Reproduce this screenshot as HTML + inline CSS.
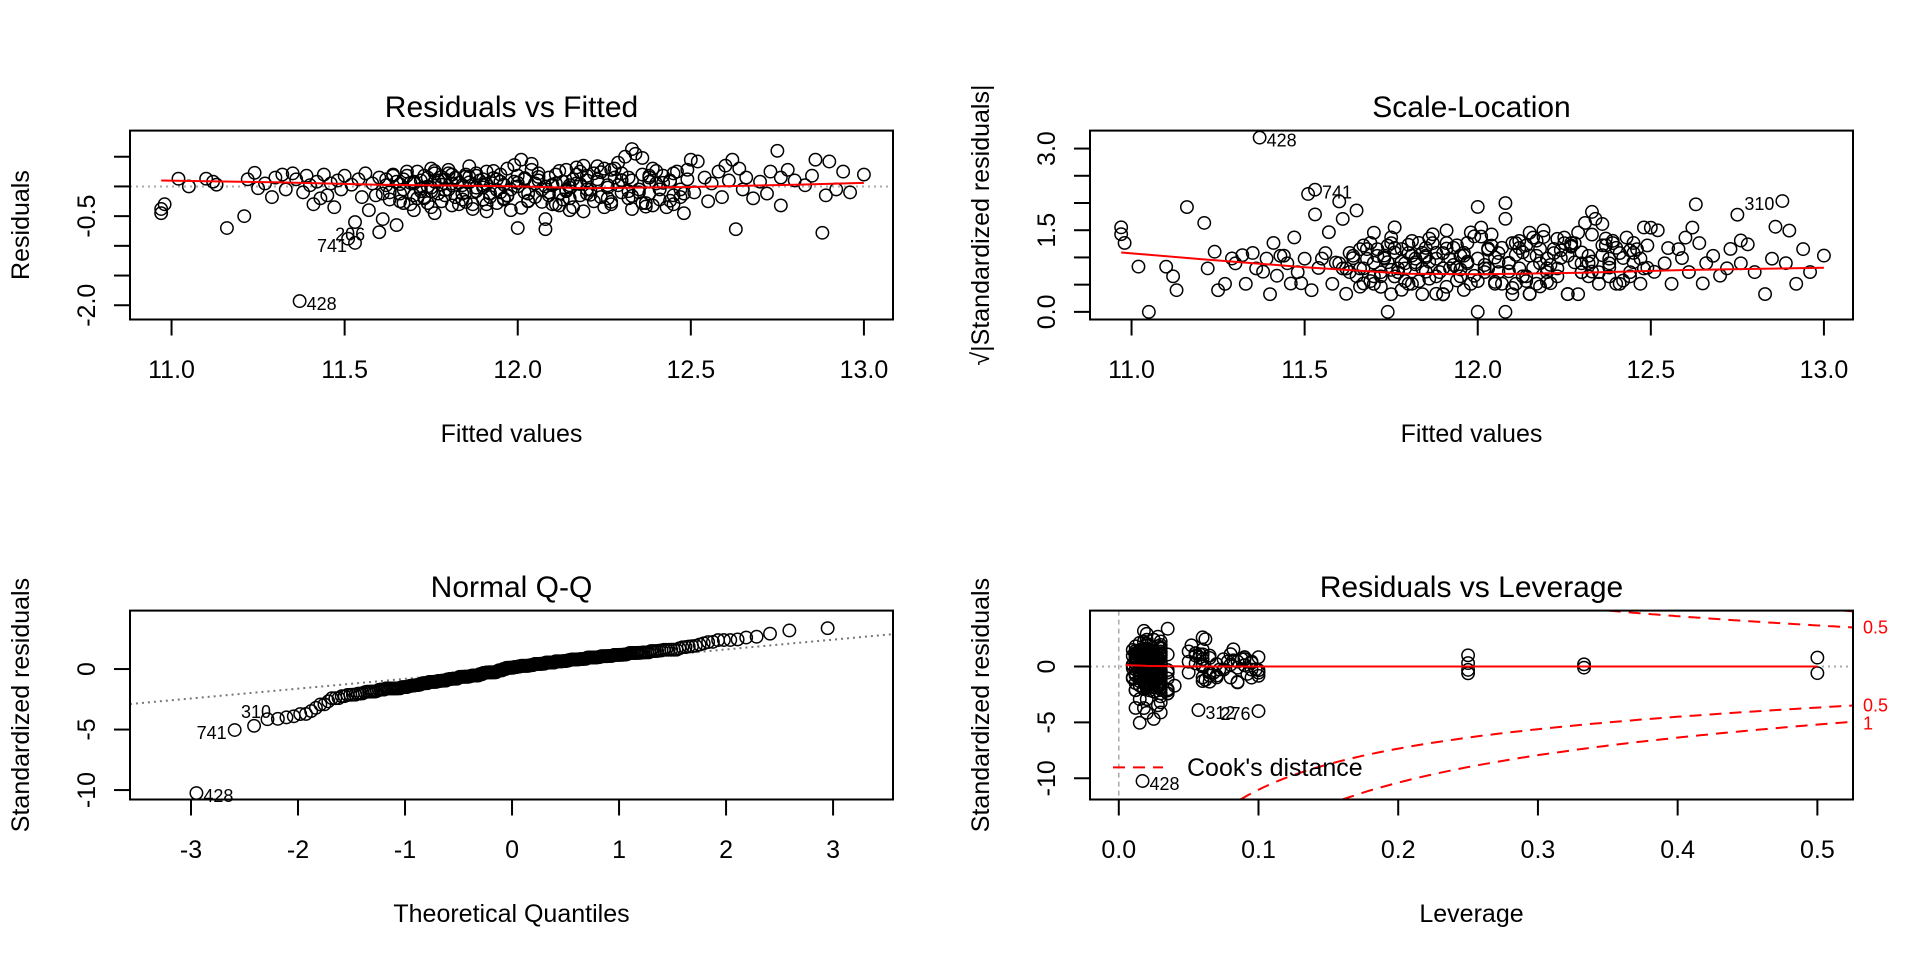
<!DOCTYPE html>
<html>
<head>
<meta charset="utf-8">
<style>
html,body{margin:0;padding:0;background:#fff;overflow:hidden;width:1920px;height:960px;}
svg{display:block;font-family:"Liberation Sans",sans-serif;}
</style>
</head>
<body>
<svg id="chart" width="1920" height="960" viewBox="0 0 1920 960" xmlns="http://www.w3.org/2000/svg"></svg>
<script>
// ---- data ----
const fitted = [
10.97,10.97,10.98,11.02,11.05,11.10,11.12,11.13,11.16,11.21,
11.22,11.24,11.25,11.27,11.29,11.30,11.32,11.33,11.35,11.36,
11.37,11.38,11.39,11.40,11.41,11.42,11.43,11.44,11.45,11.46,
11.47,11.48,11.49,11.50,11.51,11.52,11.53,11.53,11.54,11.55,
11.56,11.57,11.58,11.59,11.60,11.60,11.61,11.62,11.63,11.64,
11.65,11.65,11.66,11.67,11.67,11.68,11.69,11.70,11.70,11.71,
11.72,11.72,11.73,11.74,11.74,11.75,11.76,11.76,11.77,11.78,
11.78,11.79,11.80,11.80,11.81,11.82,11.82,11.83,11.84,11.85,
11.85,11.86,11.87,11.88,11.88,11.89,11.90,11.91,11.91,11.92,
11.93,11.94,11.94,11.95,11.96,11.97,11.97,11.98,11.99,12.00,
12.01,12.02,12.02,12.03,12.04,12.05,12.05,12.06,12.07,12.08,
12.08,12.09,12.10,12.10,12.11,12.12,12.13,12.13,12.14,12.15,
12.16,12.16,12.17,12.18,12.19,12.19,12.20,12.21,12.22,12.22,
12.23,12.24,12.25,12.26,12.27,12.28,12.29,12.30,12.30,12.31,
12.32,12.33,12.33,12.34,12.35,12.36,12.37,12.38,12.38,12.39,
12.40,12.41,12.42,12.43,12.44,12.45,12.46,12.47,12.48,12.49,
12.50,12.51,12.52,12.54,12.55,12.56,12.58,12.59,12.60,12.61,
12.62,12.63,12.64,12.65,12.66,12.68,12.70,12.72,12.73,12.75,
12.76,12.76,12.78,12.80,12.83,12.85,12.86,12.88,12.89,12.90,
12.92,12.94,12.96,13.00,
11.62,11.66,11.69,11.71,11.73,11.75,11.77,11.79,11.81,11.83,
11.84,11.86,11.88,11.90,11.92,11.95,11.98,12.00,12.03,12.06,
12.09,12.11,12.14,12.17,12.20,12.23,12.26,12.29,12.32,12.35,
12.38,12.41,12.44,12.47,11.74,11.87,11.96,12.12,12.25,12.36,
11.68,11.80,11.93,12.04,12.18,12.28,12.40,11.76,12.15,12.45,
11.85,12.05,12.20,11.95,12.10,11.90,12.30,11.75,12.00,12.15,
11.61,11.64,11.67,11.70,11.73,11.76,11.79,11.82,11.85,11.88,
11.91,11.94,11.97,12.00,12.03,12.06,12.09,12.12,12.15,12.18,
12.21,12.24,12.27,12.30,12.33,12.36,12.39,12.42,12.45,12.48,
11.66,11.72,11.78,11.84,11.90,11.96,12.02,12.08,12.14,12.20,
12.26,12.32,12.38,12.44,11.70,11.86,12.01,12.17,12.33,12.49,
11.63,11.81,11.99,12.11,12.23,12.37,11.75,11.91,12.07,12.27
];
const resid = [
-0.45,-0.38,-0.30,0.13,0.00,0.13,0.08,0.03,-0.70,-0.50,
0.12,0.23,-0.03,0.05,-0.18,0.15,0.20,-0.05,0.22,0.12,
-1.93,-0.10,0.18,0.02,-0.30,0.08,-0.20,0.20,-0.15,0.05,
-0.35,0.10,-0.05,0.18,-0.88,0.03,-0.95,-0.60,0.12,-0.18,
0.22,-0.40,0.05,-0.15,-0.77,0.15,-0.55,0.02,-0.10,0.20,
-0.65,0.08,-0.25,0.12,-0.05,0.18,-0.30,0.05,-0.15,0.25,
0.10,-0.08,-0.20,0.15,0.00,-0.35,0.08,0.22,-0.12,0.03,
-0.25,0.12,0.28,-0.05,0.05,-0.18,0.15,-0.30,0.02,0.20,
-0.10,0.07,-0.38,0.18,-0.02,0.10,-0.22,0.25,0.04,-0.12,
0.14,-0.06,-0.28,0.20,0.03,-0.15,0.30,-0.40,0.08,-0.70,
0.45,-0.10,0.12,-0.25,0.38,0.05,-0.18,0.22,-0.05,-0.72,
-0.55,0.15,-0.30,0.02,0.20,-0.12,0.08,-0.22,0.28,-0.02,
0.12,-0.35,0.05,-0.15,0.35,-0.42,0.18,-0.05,0.22,-0.25,
0.08,-0.18,0.30,0.02,-0.30,0.15,0.40,-0.10,0.22,0.50,
-0.20,0.63,0.10,0.55,-0.05,0.48,-0.28,0.15,-0.12,0.30,
0.05,-0.22,0.18,-0.35,0.08,-0.15,0.25,-0.05,-0.45,0.12,
0.45,-0.10,0.42,0.15,-0.25,0.05,0.25,-0.18,0.35,0.10,
0.45,-0.72,0.30,-0.05,0.15,-0.20,0.08,-0.12,0.25,0.60,
-0.32,0.15,0.28,0.10,0.02,0.18,0.45,-0.78,-0.15,0.42,
-0.05,0.25,-0.10,0.20,
0.12,-0.12,0.06,-0.20,0.18,-0.02,0.10,-0.15,0.20,0.06,
-0.22,0.16,-0.08,0.12,-0.18,0.08,-0.05,0.18,-0.12,0.10,
-0.15,0.05,-0.08,0.20,-0.12,0.12,-0.20,0.02,0.15,-0.10,
0.18,-0.05,0.10,-0.18,-0.28,-0.30,-0.22,-0.32,-0.35,-0.28,
0.25,0.22,0.26,0.28,0.25,0.30,0.26,-0.45,-0.40,-0.30,
0.165,0.05,-0.05,-0.10,0.03,-0.016,0.107,-0.08,0.00,0.02,
-0.12,0.18,-0.28,0.08,-0.18,0.26,-0.06,0.14,-0.26,0.22,
-0.30,0.12,-0.16,0.06,-0.24,0.16,-0.10,0.26,-0.20,0.04,
-0.14,0.24,-0.26,0.10,-0.16,0.20,-0.32,0.06,0.22,-0.12,
0.04,-0.04,0.16,-0.12,0.02,-0.20,0.14,0.00,-0.06,0.10,
-0.02,-0.08,0.08,-0.24,-0.40,0.34,-0.36,0.32,-0.38,0.28,
-0.22,-0.32,0.36,-0.30,0.34,-0.34,0.30,-0.42,-0.26,0.28
];
const leverage = [
.035,.035,.03,.02,.018,.015,.025,.02,.012,.03,
.02,.015,.01,.025,.03,.012,.06,.018,.022,.015,
.017,.065,.02,.01,.03,.085,.015,.025,.02,.055,
.03,.02,.095,.015,.025,.01,.015,.03,.06,.02,
.012,.035,.022,.07,.03,.02,.015,.09,.025,.018,
.028,.05,.015,.02,.075,.01,.03,.022,.065,.018,
.012,.025,.035,.1,.02,.03,.015,.055,.02,.08,
.025,.018,.06,.012,.03,.02,.09,.028,.015,.022,
.068,.02,.03,.012,.085,.025,.018,.05,.02,.03,
.015,.1,.025,.02,.06,.012,.03,.022,.078,.018,
.025,.035,.015,.065,.02,.03,.095,.012,.028,.1,
.02,.058,.025,.015,.08,.03,.02,.062,.018,.025,
.088,.02,.03,.015,.052,.025,.02,.098,.012,.03,
.022,.07,.018,.03,.025,.09,.015,.02,.055,.028,
.015,.035,.082,.02,.03,.06,.025,.012,.092,.02,
.03,.018,.065,.025,.02,.1,.015,.028,.03,.075,
.02,.05,.03,.015,.085,.025,.018,.06,.02,.03,
.025,.057,.02,.072,.03,.015,.095,.022,.03,.018,
.04,.02,.082,.025,.03,.015,.062,.02,.03,.018,
.025,.02,.035,.03,
.012,.018,.025,.01,.03,.015,.022,.02,.035,.012,
.028,.015,.02,.025,.01,.03,.018,.022,.015,.028,
.02,.012,.03,.018,.025,.015,.022,.01,.028,.02,
.015,.025,.018,.03,.012,.02,.028,.015,.022,.03,
.02,.015,.025,.01,.03,.018,.022,.035,.012,.028,
.25,.25,.25,.25,.333,.333,.5,.5,.06,.09,
.015,.055,.02,.03,.08,.012,.025,.065,.018,.03,
.022,.09,.015,.028,.06,.02,.1,.012,.03,.07,
.018,.025,.085,.015,.03,.058,.02,.095,.025,.012,
.03,.018,.022,.015,.028,.02,.012,.025,.035,.018,
.02,.03,.015,.025,.012,.028,.02,.03,.018,.022,
.025,.015,.03,.02,.012,.028,.018,.025,.02,.015
];
const sigma = 0.19;
const nParams = 27;
// smoother lines
const rvfSmoothX = [10.97,11.3,11.6,12.0,12.2,12.5,12.8,13.0];
const rvfSmoothY = [0.10,0.07,0.03,0.0,-0.03,-0.01,0.03,0.06];
const slSmoothX = [10.97,11.2,11.5,11.8,12.0,12.3,12.6,13.0];
const slSmoothY = [1.09,0.97,0.82,0.70,0.69,0.72,0.77,0.81];
const lvSmoothX = [0.005,0.02,0.05,0.1,0.25,0.333,0.5];
const lvSmoothY = [0.12,0.05,0.0,0.0,0.0,0.0,0.0];
// tick labels
const fitTicks = [11.0,11.5,12.0,12.5,13.0];
const fitTickLabels = ["11.0","11.5","12.0","12.5","13.0"];
const rvfYTicks = [0.5,0,-0.5,-1.0,-1.5,-2.0];
const rvfYLabels = ["","","-0.5","","","-2.0"];
const slYTicks = [0,0.5,1.0,1.5,2.0,2.5,3.0];
const slYLabels = ["0.0","","","1.5","","","3.0"];
const qqXTicks = [-3,-2,-1,0,1,2,3];
const qqYTicks = [0,-5,-10];
const lvXTicks = [0,0.1,0.2,0.3,0.4,0.5];
const lvXLabels = ["0.0","0.1","0.2","0.3","0.4","0.5"];
const lvYTicks = [0,-5,-10];
const cookLevels = [0.5,1];

// ---- helpers ----
const svg = document.getElementById('chart');
const NS = 'http://www.w3.org/2000/svg';
function mk(tag, attrs, name, parent){
  const el = document.createElementNS(NS, tag);
  for (const k in attrs) el.setAttribute(k, attrs[k]);
  
  
  (parent||svg).appendChild(el);
  return el;
}
function txt(s, attrs, name, parent){ const t = mk('text', attrs, name, parent); t.textContent = s; return t; }
function lin(d0,d1,r0,r1){ return v => r0 + (v-d0)/(d1-d0)*(r1-r0); }
const BL=130, BR=893, BT=130.6, BB=319.5;

function panel(ox, oy, xlim, ylim, key){
  const g = mk('g', {transform:`translate(${ox},${oy})`}, key+'-panel');
  const sx = lin(xlim[0], xlim[1], BL, BR);
  const sy = lin(ylim[0], ylim[1], BB, BT);
  const clip = mk('clipPath', {id:'clip-'+key}, key+'-clip', g);
  mk('rect', {x:BL, y:BT, width:BR-BL, height:BB-BT}, key+'-clip-rect', clip);
  const plot = mk('g', {'clip-path':`url(#clip-${key})`}, key+'-plot-area', g);
  return {g, sx, sy, plot};
}
function frame(p, key, title, xlab, ylab){
  mk('rect', {x:BL, y:BT, width:BR-BL, height:BB-BT, fill:'none', stroke:'#000', 'stroke-width':2}, key+'-frame', p.g);
  txt(title, {x:(BL+BR)/2, y:117, 'text-anchor':'middle', 'font-size':30}, key+'-title', p.g);
  txt(xlab, {x:(BL+BR)/2, y:442, 'text-anchor':'middle', 'font-size':25}, key+'-x-axis-title', p.g);
  txt(ylab, {x:0, y:0, transform:`translate(29,${(BT+BB)/2}) rotate(-90)`, 'text-anchor':'middle', 'font-size':25}, key+'-y-axis-title', p.g);
}
function xAxis(p, key, ticks, labels){
  ticks.forEach((t,i)=>{
    const x = p.sx(t);
    mk('line', {x1:x, x2:x, y1:BB, y2:BB+16, stroke:'#000', 'stroke-width':2}, key+'-x-tick', p.g);
    txt(labels[i], {x:x, y:378, 'text-anchor':'middle', 'font-size':25}, key+'-x-tick-label', p.g);
  });
}
function yAxis(p, key, ticks, labels){
  ticks.forEach((t,i)=>{
    const y = p.sy(t);
    mk('line', {x1:BL-16, x2:BL, y1:y, y2:y, stroke:'#000', 'stroke-width':2}, key+'-y-tick', p.g);
    if (labels[i]) txt(labels[i], {x:0, y:0, transform:`translate(95,${y}) rotate(-90)`, 'text-anchor':'middle', 'font-size':25}, key+'-y-tick-label', p.g);
  });
}
function pts(p, key, xs, ys){
  xs.forEach((v,i)=>{
    mk('circle', {cx:p.sx(v), cy:p.sy(ys[i]), r:6.2, fill:'none', stroke:'#000', 'stroke-width':1.5}, key+'-point', p.plot);
  });
}
function polyl(p, key, xs, ys, attrs){
  const d = xs.map((v,i)=>`${p.sx(v).toFixed(1)},${p.sy(ys[i]).toFixed(1)}`).join(' ');
  return mk('polyline', Object.assign({points:d, fill:'none'}, attrs), key, p.plot);
}
function ptLabel(p, key, s, xv, yv, side){
  const x = p.sx(xv), y = p.sy(yv);
  const a = side==='right' ? {x:x+7, y:y+9, 'text-anchor':'start'}
          : side==='left' ? {x:x-8, y:y+9, 'text-anchor':'end'}
          : {x:x+2, y:y+2, 'text-anchor':'middle'};
  a['font-size'] = 18;
  txt(s, a, key, p.g);
}

const stdRes = resid.map((r,i)=> r/(sigma*Math.sqrt(1-leverage[i])));
const sqrtAbs = stdRes.map(v=>Math.sqrt(Math.abs(v)));

// ---- Residuals vs Fitted ----
{
  const p = panel(0, 0, [10.88,13.084], [-2.24,0.94], 'rvf');
  mk('line', {x1:BL, x2:BR, y1:p.sy(0), y2:p.sy(0), stroke:'#aaa', 'stroke-width':2, 'stroke-dasharray':'2,4'}, 'rvf-zero-line', p.plot);
  pts(p, 'rvf', fitted, resid);
  polyl(p, 'rvf-smoother-line', rvfSmoothX, rvfSmoothY, {stroke:'#f00', 'stroke-width':2});
  frame(p, 'rvf', 'Residuals vs Fitted', 'Fitted values', 'Residuals');
  xAxis(p, 'rvf', fitTicks, fitTickLabels);
  yAxis(p, 'rvf', rvfYTicks, rvfYLabels);
  ptLabel(p, 'rvf-label-428', '428', fitted[20], resid[20], 'right');
  ptLabel(p, 'rvf-label-741', '741', fitted[36], resid[36], 'left');
  ptLabel(p, 'rvf-label-206', '206', fitted[34], resid[34], 'mid');
}
// ---- Scale-Location ----
{
  const p = panel(960, 0, [10.88,13.084], [-0.14,3.33], 'sl');
  pts(p, 'sl', fitted, sqrtAbs);
  polyl(p, 'sl-smoother-line', slSmoothX, slSmoothY, {stroke:'#f00', 'stroke-width':2});
  frame(p, 'sl', 'Scale-Location', 'Fitted values', '\u221A|Standardized residuals|');
  xAxis(p, 'sl', fitTicks, fitTickLabels);
  yAxis(p, 'sl', slYTicks, slYLabels);
  ptLabel(p, 'sl-label-428', '428', fitted[20], sqrtAbs[20], 'right');
  ptLabel(p, 'sl-label-741', '741', fitted[36], sqrtAbs[36], 'right');
  ptLabel(p, 'sl-label-310', '310', fitted[187], sqrtAbs[187], 'left');
}
// ---- Normal Q-Q ----
function qnorm(pp){
  const a=[-39.69683028665376,220.9460984245205,-275.9285104469687,138.3577518672690,-30.66479806614716,2.506628277459239];
  const b=[-54.47609879822406,161.5858368580409,-155.6989798598866,66.80131188771972,-13.28068155288572];
  const c=[-7.784894002430293e-03,-0.3223964580411365,-2.400758277161838,-2.549732539343734,4.374664141464968,2.938163982698783];
  const d=[7.784695709041462e-03,0.3224671290700398,2.445134137142996,3.754408661907416];
  const pl=0.02425;
  if (pp<pl){const q=Math.sqrt(-2*Math.log(pp));return (((((c[0]*q+c[1])*q+c[2])*q+c[3])*q+c[4])*q+c[5])/((((d[0]*q+d[1])*q+d[2])*q+d[3])*q+1);}
  if (pp>1-pl){const q=Math.sqrt(-2*Math.log(1-pp));return -(((((c[0]*q+c[1])*q+c[2])*q+c[3])*q+c[4])*q+c[5])/((((d[0]*q+d[1])*q+d[2])*q+d[3])*q+1);}
  const q=pp-0.5, r=q*q;
  return (((((a[0]*r+a[1])*r+a[2])*r+a[3])*r+a[4])*r+a[5])*q/(((((b[0]*r+b[1])*r+b[2])*r+b[3])*r+b[4])*r+1);
}
{
  const p = panel(0, 480, [-3.57,3.56], [-10.78,4.83], 'qq');
  const sorted = stdRes.slice().sort((a,b)=>a-b);
  const n = sorted.length;
  const theo = sorted.map((v,i)=> qnorm((i+0.5)/n));
  mk('line', {x1:p.sx(-3.57), x2:p.sx(3.56), y1:p.sy(-3.57*0.81), y2:p.sy(3.56*0.81), stroke:'#777', 'stroke-width':2, 'stroke-dasharray':'2,4'}, 'qq-reference-line', p.plot);
  pts(p, 'qq', theo, sorted);
  frame(p, 'qq', 'Normal Q-Q', 'Theoretical Quantiles', 'Standardized residuals');
  xAxis(p, 'qq', qqXTicks, qqXTicks.map(String));
  yAxis(p, 'qq', qqYTicks, qqYTicks.map(String));
  ptLabel(p, 'qq-label-428', '428', theo[0], sorted[0], 'right');
  ptLabel(p, 'qq-label-741', '741', theo[1], sorted[1], 'left');
  ptLabel(p, 'qq-label-310', '310', theo[2], sorted[2]+0.8, 'mid');
}
// ---- Residuals vs Leverage ----
{
  const ylim = [-11.9,5.0];
  const xlim = [-0.0206,0.5255];
  const p = panel(960, 480, xlim, ylim, 'lv');
  mk('line', {x1:p.sx(0), x2:p.sx(0), y1:BT, y2:BB, stroke:'#aaa', 'stroke-width':1.5, 'stroke-dasharray':'5,4'}, 'lv-zero-leverage-line', p.plot);
  mk('line', {x1:BL, x2:BR, y1:p.sy(0), y2:p.sy(0), stroke:'#aaa', 'stroke-width':2, 'stroke-dasharray':'2,4'}, 'lv-zero-line', p.plot);
  pts(p, 'lv', leverage, stdRes);
  polyl(p, 'lv-smoother-line', lvSmoothX, lvSmoothY, {stroke:'#f00', 'stroke-width':2});
  cookLevels.forEach(c=>{
    const cp = c*nParams;
    const hUp0 = cp/(cp+ylim[1]*ylim[1]);
    const hLo0 = cp/(cp+ylim[0]*ylim[0]);
    const hsU=[], up=[], hsL=[], lo=[];
    const steps = 80;
    for (let k=0; k<=steps; k++){
      const hu = hUp0 + (xlim[1]-hUp0)*k/steps;
      if (hu <= xlim[1]) { hsU.push(hu); up.push(Math.sqrt(cp*(1-hu)/hu)); }
      const hl = hLo0 + (xlim[1]-hLo0)*k/steps;
      hsL.push(hl); lo.push(-Math.sqrt(cp*(1-hl)/hl));
    }
    if (hUp0 < xlim[1]) polyl(p, 'cooks-distance-upper-'+c, hsU, up, {stroke:'#f00', 'stroke-width':2, 'stroke-dasharray':'12,8'});
    polyl(p, 'cooks-distance-lower-'+c, hsL, lo, {stroke:'#f00', 'stroke-width':2, 'stroke-dasharray':'12,8'});
  });
  frame(p, 'lv', 'Residuals vs Leverage', 'Leverage', 'Standardized residuals');
  xAxis(p, 'lv', lvXTicks, lvXLabels);
  yAxis(p, 'lv', lvYTicks, lvYTicks.map(String));
  const hR = 0.5255;
  const v05 = Math.sqrt(0.5*nParams*(1-hR)/hR), v1 = Math.sqrt(1*nParams*(1-hR)/hR);
  txt('0.5', {x:BR+10, y:p.sy(v05)+6, 'font-size':18, fill:'#f00'}, 'cooks-label-upper-0.5', p.g);
  txt('0.5', {x:BR+10, y:p.sy(-v05)+6, 'font-size':18, fill:'#f00'}, 'cooks-label-lower-0.5', p.g);
  txt('1', {x:BR+10, y:p.sy(-v1)+8, 'font-size':18, fill:'#f00'}, 'cooks-label-lower-1', p.g);
  ptLabel(p, 'lv-label-428', '428', leverage[20], stdRes[20], 'right');
  ptLabel(p, 'lv-label-312', '312', leverage[171], stdRes[171], 'right');
  ptLabel(p, 'lv-label-276', '276', leverage[109], stdRes[109], 'left');
  mk('line', {x1:153, x2:203, y1:287.4, y2:287.4, stroke:'#f00', 'stroke-width':2, 'stroke-dasharray':'12,8'}, 'legend-cooks-line', p.g);
  txt("Cook's distance", {x:227, y:296, 'font-size':25}, 'legend-cooks-text', p.g);
}
</script>
</body>
</html>
